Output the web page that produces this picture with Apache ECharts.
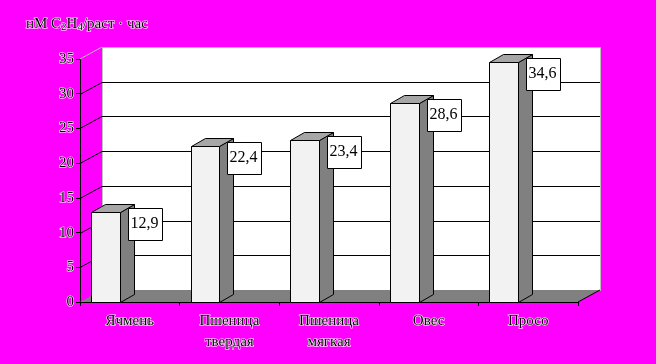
<!DOCTYPE html>
<html><head><meta charset="utf-8">
<script src="https://cdn.jsdelivr.net/npm/echarts@6/dist/echarts.min.js"></script>
<style>html,body{margin:0;padding:0;background:#FF00FF;}#c{width:656px;height:364px;}</style>
</head><body><div id="c"></div>
<script>
const categories = ['Ячмень', 'Пшеница\nтвердая', 'Пшеница\nмягкая', 'Овес', 'Просо'];
const values = [12.9, 22.4, 23.4, 28.6, 34.6];
const valueLabels = ['12,9', '22,4', '23,4', '28,6', '34,6'];
const gridTicks = [5, 10, 15, 20, 25, 30];
const yMin = 0, yMax = 35, yStep = 5;
const lsdText = 'НСР';
const lsdSub = '05';
const lsdValue = ' = 6,9';

const SERIF = '"Liberation Serif", "Times New Roman", serif';
const DX = 22, DY = -12;        // wall depth
const BDX = 14, BDY = -8;       // bar depth

const chart = echarts.init(document.getElementById('c'), null, {renderer: 'canvas'});

function wallItem(params, api) {
  const cs = params.coordSys;
  const y0 = api.coord([0, yMin])[1];
  const yT = api.coord([0, yMax])[1];
  const L = cs.x, R = cs.x + cs.width;
  return {
    type: 'group',
    children: [
      {type: 'rect', shape: {x: L + DX + 0.5, y: Math.round(yT + DY) + 0.5, width: cs.width, height: y0 - yT},
        style: {fill: '#ffffff', stroke: '#c0c0c0', lineWidth: 1}},
      {type: 'polygon', shape: {points: [[L, y0], [R, y0], [R + DX, y0 + DY], [L + DX, y0 + DY]]},
        style: {fill: '#808080', stroke: null}},
      {type: 'polyline', shape: {points: [[R, y0], [R + DX, y0 + DY]]}, style: {stroke: '#000', lineWidth: 1, fill: null}},
      {type: 'polyline', shape: {points: [[L, yT], [L + DX, yT + DY]]}, style: {stroke: '#c0c0c0', lineWidth: 1, fill: null}}
    ]
  };
}

function gridItem(params, api) {
  const cs = params.coordSys;
  const v = api.value(0);
  const y = Math.round(api.coord([0, v])[1]) + 0.5;
  const L = cs.x, R = cs.x + cs.width;
  return {
    type: 'polyline',
    shape: {points: [[L, y], [L + DX, y + DY], [R + DX, y + DY]]},
    style: {stroke: '#000', lineWidth: 1, fill: null}
  };
}

function barItem(params, api) {
  const i = api.value(0), v = api.value(1);
  const top = api.coord([i, v]);
  const base = api.coord([i, 0]);
  const bw = api.size([1, 0])[0];
  const cx = top[0];
  const xl = Math.round(cx - 0.39 * bw) + 0.5, xr = Math.round(cx - 0.10 * bw) + 0.5;
  const yt = Math.round(top[1]) + 0.5, yb = Math.round(base[1]) + 0.5;
  const bx = xr + 7, by = yt - 5;
  return {
    type: 'group',
    children: [
      {type: 'polygon', shape: {points: [[xr, yb], [xr + BDX, yb + BDY], [xr + BDX, yt + BDY], [xr, yt]]},
        style: {fill: '#808080', stroke: '#000', lineWidth: 1}},
      {type: 'polygon', shape: {points: [[xl, yt], [xl + BDX, yt + BDY], [xr + BDX, yt + BDY], [xr, yt]]},
        style: {fill: '#a6a6a6', stroke: '#000', lineWidth: 1}},
      {type: 'rect', shape: {x: xl, y: yt, width: xr - xl, height: yb - yt},
        style: {fill: '#f2f2f2', stroke: '#000', lineWidth: 1}},
      {type: 'rect', shape: {x: Math.round(bx) + 0.5, y: Math.round(by) + 0.5, width: 34, height: 32},
        style: {fill: '#fff', stroke: '#000', lineWidth: 1}},
      {type: 'text', x: bx + 17, y: by + 16,
        style: {text: valueLabels[params.dataIndex], font: '16px ' + SERIF, fill: '#000', align: 'center', verticalAlign: 'middle'}}
    ]
  };
}

const axisTextStyle = {color: '#000', fontFamily: SERIF, textBorderColor: '#fff', textBorderWidth: 1.2};

chart.setOption({
  animation: false,
  backgroundColor: '#FF00FF',
  title: {
    left: 21, top: 10,
    text: '{m|нМ C}{s|2}{m|H}{s|4}{m|/раст · час}',
    textStyle: {
      fontWeight: 'normal',
      rich: {
        m: {fontFamily: SERIF, fontSize: 15, fontWeight: 'normal', color: '#000', lineHeight: 18, verticalAlign: 'middle', textBorderColor: '#fff', textBorderWidth: 1.2},
        s: {fontFamily: SERIF, fontSize: 11, fontWeight: 'normal', color: '#000', lineHeight: 18, verticalAlign: 'bottom', textBorderColor: '#fff', textBorderWidth: 1.2}
      }
    }
  },
  grid: {left: 80, right: 78, top: 59, bottom: 62},
  xAxis: {
    type: 'category', data: categories, boundaryGap: true,
    axisLine: {show: true, lineStyle: {color: '#000', width: 1}},
    axisTick: {show: true, length: 4, lineStyle: {color: '#000'}},
    axisLabel: Object.assign({fontSize: 15, lineHeight: 21, margin: 9, interval: 0}, axisTextStyle),
    splitLine: {show: false}
  },
  yAxis: {
    type: 'value', min: yMin, max: yMax, interval: yStep,
    axisLine: {show: true, lineStyle: {color: '#000', width: 1}},
    axisTick: {show: true, length: 4, lineStyle: {color: '#000'}},
    axisLabel: Object.assign({fontSize: 15, margin: 6}, axisTextStyle),
    splitLine: {show: false}
  },
  graphic: [{
    type: 'group', left: 132, top: 71, z: 50,
    children: [
      {type: 'rect', shape: {x: 0.5, y: 0.5, width: 88, height: 29}, style: {fill: '#fff', stroke: '#808080', lineWidth: 1}},
      {type: 'text', x: 44.5, y: 15.5,
        style: {
          text: '{m|' + lsdText + '}{s|' + lsdSub + '}{m|' + lsdValue + '}',
          align: 'center', verticalAlign: 'middle',
          rich: {
            m: {fontFamily: SERIF, fontSize: 16, fill: '#000', lineHeight: 20, verticalAlign: 'middle'},
            s: {fontFamily: SERIF, fontSize: 12, fill: '#000', lineHeight: 20, verticalAlign: 'bottom'}
          }
        }}
    ]
  }],
  series: [
    {type: 'custom', name: 'wall', z: 1, silent: true, renderItem: wallItem, data: [[0]], clip: false},
    {type: 'custom', name: 'grid', z: 2, silent: true, renderItem: gridItem, data: gridTicks.map(v => [v]), clip: false},
    {type: 'custom', name: 'bars', z: 3, silent: true, renderItem: barItem, clip: false,
      encode: {x: 0, y: 1},
      data: values.map((v, i) => [i, v])}
  ]
});
</script></body></html>
